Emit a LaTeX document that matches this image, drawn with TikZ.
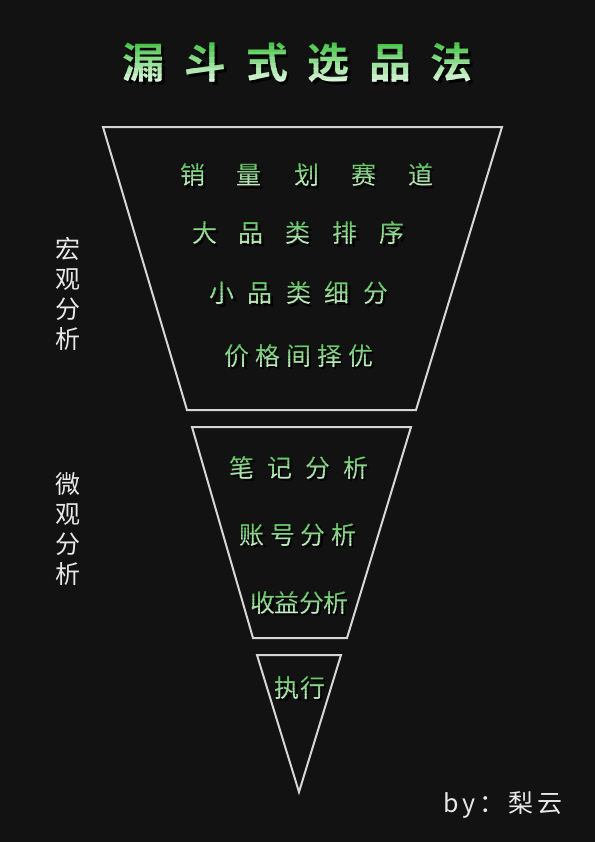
\documentclass[tikz,border=0pt]{standalone}
\usepackage{fontspec}
\newfontfamily\cjk{Noto Sans CJK SC}[BoldFont={Noto Sans CJK SC Bold}]
\definecolor{bgc}{RGB}{18,18,18}
\definecolor{linec}{RGB}{214,214,214}
\definecolor{ttop}{RGB}{72,196,72}
\definecolor{tbot}{RGB}{220,246,220}
\definecolor{btop}{RGB}{92,190,92}
\definecolor{bbot}{RGB}{196,236,196}
\definecolor{labc}{RGB}{232,232,232}
\newcommand\titlefont{\cjk\bfseries\fontsize{42bp}{50bp}\selectfont}
\newcommand\bodyfont{\cjk\fontsize{25bp}{30bp}\selectfont}
\newcommand\labfont{\cjk\fontsize{25bp}{30bp}\selectfont}
% #1 name, #2 x, #3 y, #4 font, #5 text, #6 top colour, #7 bottom colour, #8 half height
\newcommand\gtext[8]{%
  \node[font=#4, text=black, opacity=0.85, inner sep=0pt] (#1s) at (#2+2.5,#3+2.5) {#5};
  \foreach \i in {0,...,7}{%
    \pgfmathsetmacro\pct{100-\i*100/7}
    \begin{scope}
      \clip (#2-300,#3-#8+\i*#8/4) rectangle (#2+300,#3-#8+\i*#8/4+#8/4);
      \node[font=#4, text=#6!\pct!#7, inner sep=0pt] (#1\i) at (#2,#3) {#5};
    \end{scope}
  }%
}
\tikzset{
  funnel/.style={draw=linec, line width=2bp, line join=miter},
  labtext/.style={font=\labfont, text=labc, inner sep=0pt, align=center}
}
\begin{document}
\begin{tikzpicture}[x=1bp,y=-1bp]
\useasboundingbox[fill=bgc] (0,0) rectangle (595,842);
% title
\gtext{title}{298}{63}{\titlefont}{漏\kern19.6bp斗\kern19.6bp式\kern19.6bp选\kern19.6bp品\kern19.6bp法}{ttop}{tbot}{22}
% funnel shapes
\draw[funnel] (103,127) -- (502,127) -- (416,410) -- (187,410) -- cycle;
\draw[funnel] (192,427) -- (411,427) -- (347,638) -- (253,638) -- cycle;
\draw[funnel] (257,655) -- (341,655) -- (299,792) -- cycle;
% first stage
\gtext{ra}{306.5}{175}{\bodyfont}{销\kern32bp量\kern32bp划\kern32bp赛\kern32bp道}{btop}{bbot}{13}
\gtext{rb}{298.5}{233}{\bodyfont}{大\kern22bp品\kern22bp类\kern22bp排\kern22bp序}{btop}{bbot}{13}
\gtext{rc}{299}{293}{\bodyfont}{小\kern13.5bp品\kern13.5bp类\kern13.5bp细\kern13.5bp分}{btop}{bbot}{13}
\gtext{rd}{299}{356}{\bodyfont}{价\kern6bp格\kern6bp间\kern6bp择\kern6bp优}{btop}{bbot}{13}
% second stage
\gtext{re}{299}{467.5}{\bodyfont}{笔\kern13bp记\kern13bp分\kern13bp析}{btop}{bbot}{13}
\gtext{rf}{298}{535}{\bodyfont}{账\kern5.5bp号\kern5.5bp分\kern5.5bp析}{btop}{bbot}{13}
\gtext{rg}{299.5}{603}{\bodyfont}{收\kern-0.7bp益\kern-0.7bp分\kern-0.7bp析}{btop}{bbot}{13}
% third stage
\gtext{rh}{300}{688}{\bodyfont}{执\kern0.5bp行}{btop}{bbot}{13}
% side labels
\node[labtext] (macro) at (68,293.5) {宏\\观\\分\\析};
\node[labtext] (micro) at (68,528.5) {微\\观\\分\\析};
% author
\node[labtext] (author) at (503,805) {b\kern4bp y\kern4bp ：\kern4bp 梨\kern4bp 云};
\end{tikzpicture}
\end{document}
